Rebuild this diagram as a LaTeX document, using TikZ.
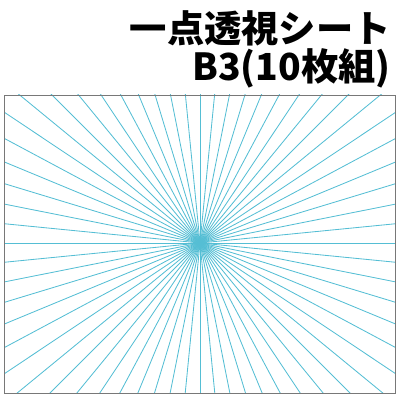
\documentclass[tikz,border=0pt]{standalone}
\usepackage{fontspec}
\usepackage{tikz}
\newfontfamily\jpfont{Noto Sans CJK JP Black}
\definecolor{raycyan}{RGB}{85,190,212}
\definecolor{framegray}{RGB}{120,120,120}

\begin{document}
\begin{tikzpicture}[x=0.025cm,y=0.025cm]

	\useasboundingbox (0,0) rectangle (400,400);
	\coordinate (sw) at (4,7);
	\coordinate (ne) at (395,305);
	\coordinate (vp) at (200,157);

	\begin{scope}
		\clip (sw) rectangle (ne);
		\foreach \a in {0,5.625,...,354.4}
			\draw[raycyan, line width=0.6pt] (vp) -- ++(\a:500);
	\end{scope}
	\draw[framegray, line width=0.6pt] (sw) rectangle (ne);

	\node[anchor=east, inner sep=0pt, font=\jpfont\fontsize{26.5}{30}\selectfont] (title) at (391,372) {一点透視シート};
	\node[anchor=east, inner sep=0pt, font=\jpfont\fontsize{26.5}{30}\selectfont] (size) at (391,332) {B3(10枚組)};
%	\node (sub) at (200,20) {};
\end{tikzpicture}
\end{document}
